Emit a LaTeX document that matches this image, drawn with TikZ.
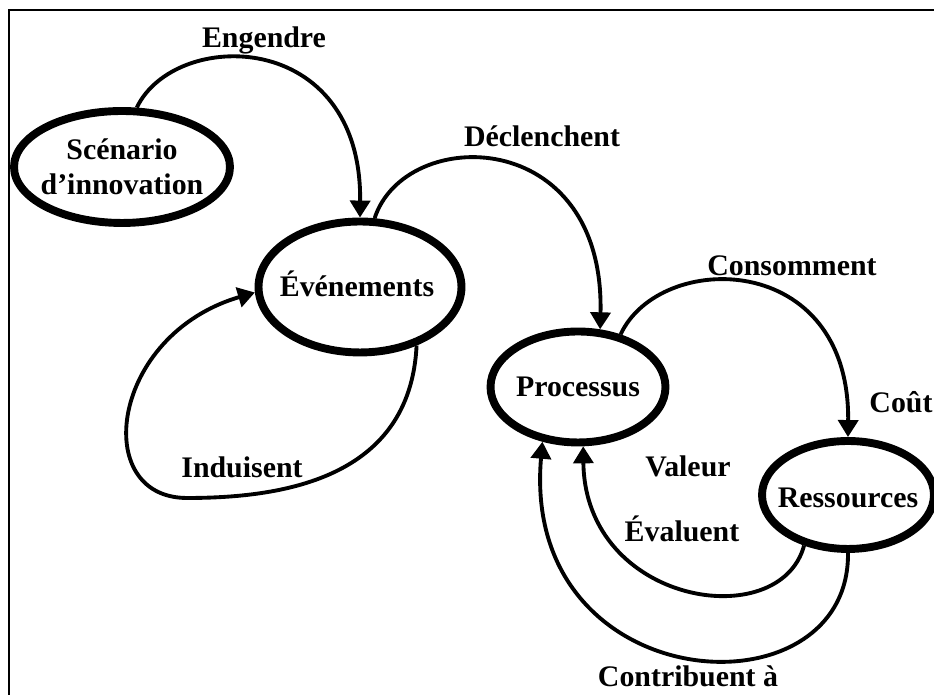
\documentclass[tikz,border=0pt]{standalone}
\usepackage{fontspec}
\setmainfont{Liberation Serif}
\usetikzlibrary{arrows.meta,shapes.geometric}
\begin{document}
\begin{tikzpicture}[x=0.02cm,y=0.02cm,
  etat/.style={ellipse, draw, line width=4.5pt, inner sep=0pt},
  lien/.style={line width=2.2pt, -{Triangle[length=3.4mm,width=4mm]}},
  texte/.style={font=\fontsize{17pt}{19.9pt}\selectfont\bfseries, inner sep=0pt, anchor=base}]
\useasboundingbox (0,0) rectangle (934,695);
\draw[line width=1.1pt] (9,-5) -- (9,685) -- (940,685);
\node[etat, minimum width=4.32cm, minimum height=2.24cm] (scen) at (122,528){};
\node[etat, minimum width=4.06cm, minimum height=2.62cm] (evt) at (360,408){};
\node[etat, minimum width=3.5cm, minimum height=2.22cm] (proc) at (578,308){};
\node[etat, minimum width=3.44cm, minimum height=2.16cm] (ress) at (848,200){};
\node[texte, anchor=center, align=center] (scentxt) at (122,528){Scénario\\d’innovation};
\node[texte] (evttxt) at (357,398){Événements};
\node[texte] (proctxt) at (578,298){Processus};
\node[texte] (resstxt) at (848,187){Ressources};
\draw[lien](scen.76) .. controls (175,667) and (362,667) .. (evt.north);
\draw[lien](evt.78) .. controls (405,570) and (605,570) .. (proc.69);
\draw[lien](proc.51) .. controls (660,445) and (850,445) .. (ress.north);
\draw[lien](ress.229) .. controls (780,60) and (585,90) .. (proc.275);
\draw[lien](ress.south) .. controls (850,-25) and (520,-5) .. (proc.237);
\draw[lien](evt.314) .. controls (410,215) and (280,197) .. (187,197)
  .. controls (90,197) and (110,360) .. (evt.183);
\node[texte] (engendre) at (264,647){Engendre};
\node[texte] (declench) at (542,548){Déclenchent};
\node[texte] (consomme) at (792,419){Consomment};
\node[texte] (cout) at (901,282){Coût};
\node[texte] (valeur) at (688,218){Valeur};
\node[texte] (evalue) at (682,153){Évaluent};
\node[texte] (contrib) at (688,8){Contribuent à};
\node[texte] (induit) at (242,217){Induisent};
\end{tikzpicture}
\end{document}
